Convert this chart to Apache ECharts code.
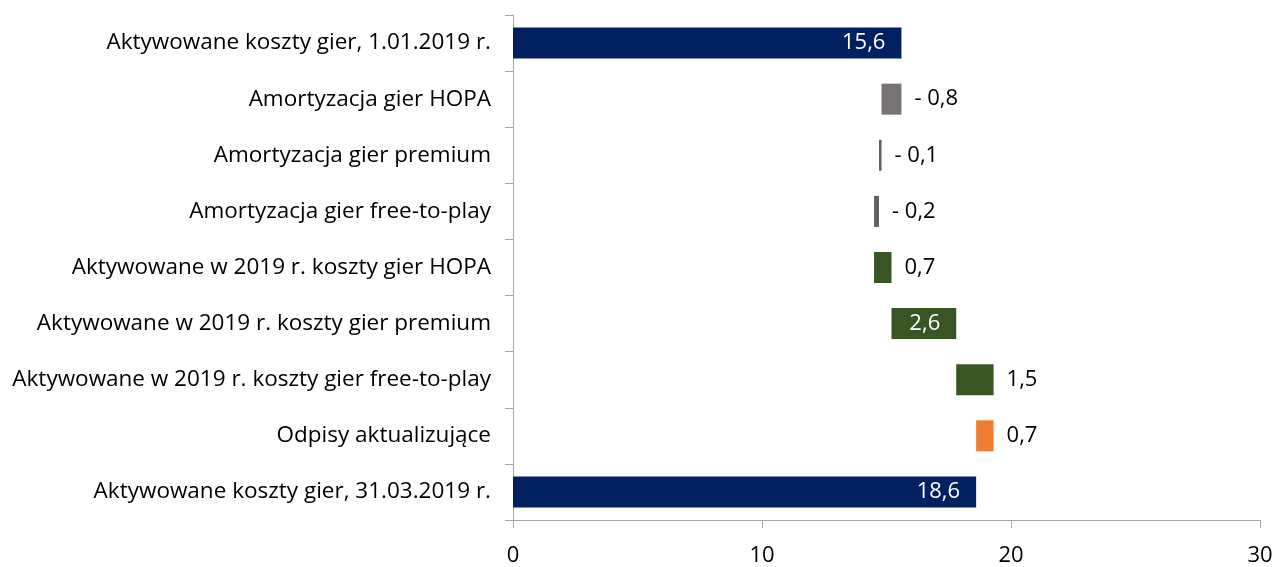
<!DOCTYPE html>
<html>
<head>
<meta charset="utf-8">
<script src="https://cdn.jsdelivr.net/npm/echarts@6/dist/echarts.min.js"></script>
<style>
html,body{margin:0;padding:0;background:#fff;}
#chart{width:1276px;height:567px;}
</style>
</head>
<body>
<div id="chart"></div>
<script>
const categories = [
  'Aktywowane koszty gier, 1.01.2019 r.',
  'Amortyzacja gier HOPA',
  'Amortyzacja gier premium',
  'Amortyzacja gier free-to-play',
  'Aktywowane w 2019 r. koszty gier HOPA',
  'Aktywowane w 2019 r. koszty gier premium',
  'Aktywowane w 2019 r. koszty gier free-to-play',
  'Odpisy aktualizujące',
  'Aktywowane koszty gier, 31.03.2019 r.'
];
// signed change of each step (totals use null for change)
const startTotal = 15.6;
const changes = [null, -0.8, -0.1, -0.2, 0.7, 2.6, 1.5, -0.7, null];
const endTotal = 18.6;
const valueLabels = ['15,6', '- 0,8', '- 0,1', '- 0,2', '0,7', '2,6', '1,5', '0,7', '18,6'];
const barColors = ['#002060', '#787373', '#5f5f5f', '#5f5f5f', '#375623', '#375623', '#375623', '#ED7D31', '#002060'];
const labelInside = [true, false, false, false, false, true, false, false, true];
const xTicks = [0, 10, 20, 30];

// build waterfall base & visible lengths
const base = [], len = [];
let running = startTotal;
changes.forEach((c, i) => {
  if (i === 0) { base.push(0); len.push(startTotal); }
  else if (i === changes.length - 1) { base.push(0); len.push(endTotal); }
  else {
    const next = running + c;
    base.push(Math.min(running, next));
    len.push(Math.abs(c));
    running = next;
  }
});

const FONT = 'Open Sans';
const chart = echarts.init(document.getElementById('chart'));
chart.setOption({
  animation: false,
  textStyle: { fontFamily: FONT },
  grid: { left: 513, right: 16, top: 15, bottom: 45, containLabel: false },
  xAxis: {
    type: 'value', min: xTicks[0], max: xTicks[xTicks.length - 1], interval: 10,
    axisLine: { show: true, lineStyle: { color: '#a6a6a6', width: 1 } },
    axisTick: { show: true, length: 8, lineStyle: { color: '#a6a6a6' } },
    splitLine: { show: false },
    axisLabel: { color: '#000', fontSize: 22, fontFamily: FONT, margin: 25 }
  },
  yAxis: {
    type: 'category', inverse: true, data: categories,
    axisLine: { show: true, lineStyle: { color: '#a6a6a6', width: 1 } },
    axisTick: { show: true, length: 8, lineStyle: { color: '#a6a6a6' } },
    axisLabel: { color: '#000', fontSize: 22.5, fontFamily: FONT, margin: 22 }
  },
  series: [
    {
      type: 'bar', stack: 'w', barWidth: 31, silent: true,
      itemStyle: { color: 'transparent' },
      data: base
    },
    {
      type: 'bar', stack: 'w', barWidth: 31,
      data: len.map((v, i) => ({
        value: v,
        itemStyle: { color: barColors[i] },
        label: {
          show: true,
          position: labelInside[i] ? 'insideRight' : 'right',
          distance: labelInside[i] ? 16 : 13,
          color: labelInside[i] ? '#fff' : '#000',
          fontSize: 22,
          fontFamily: FONT,
          formatter: () => valueLabels[i]
        }
      }))
    }
  ]
});
</script>
</body>
</html>
